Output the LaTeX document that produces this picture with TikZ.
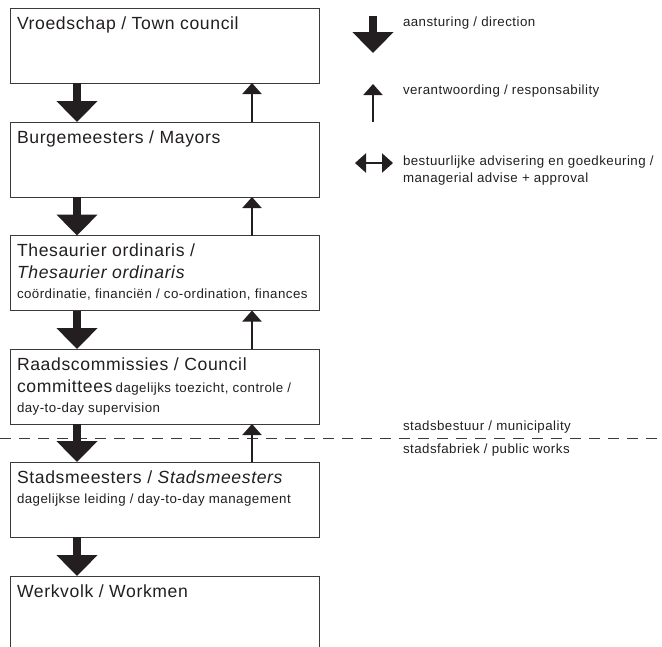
\documentclass[tikz,border=0pt]{standalone}
\usepackage{fontspec}
\setmainfont{Liberation Sans}[LetterSpace=3.5]
\usetikzlibrary{arrows.meta}
\definecolor{ink}{HTML}{231F20}
\definecolor{edge}{HTML}{3A3A3A}
\newcommand{\bigtxt}{\fontsize{17.6}{20}\selectfont}
\newcommand{\smltxt}{\fontsize{13.3}{16}\selectfont}
\begin{document}
\begin{tikzpicture}[x=1pt,y=-1pt,
  box/.style={draw=edge,line width=0.9pt,fill=white,inner sep=0pt,outer sep=0pt,
    minimum width=309pt,minimum height=75pt,anchor=north west},
  txt/.style={inner sep=0pt,outer sep=0pt,anchor=base west,text=ink},
  big/.style={txt,font=\bigtxt},
  sml/.style={txt,font=\smltxt},
  dirarrow/.style={draw=ink,line width=8pt,-{Triangle[width=40pt,length=21pt,fill=ink]}},
  resparrow/.style={draw=ink,line width=2pt,-{Triangle[width=19pt,length=11pt,fill=ink]}},
  advarrow/.style={draw=ink,line width=2.5pt,{Triangle[width=19pt,length=11pt,fill=ink]}-{Triangle[width=19pt,length=11pt,fill=ink]}},
  divider/.style={draw=edge,line width=0.9pt,dash pattern=on 11pt off 8pt}
]
\useasboundingbox (0,0) rectangle (662,646);

% dashed divider
\coordinate (dl) at (0,438);
\coordinate (dr) at (662,438);
\draw[divider] (dl) -- (dr);

% boxes
\node[box] (b1) at (10,8) {};
\node[box] (b2) at (10,122) {};
\node[box] (b3) at (10,235.5) {};
\node[box] (b4) at (10,349) {};
\node[box] (b5) at (10,462) {};
\node[box,minimum height=100pt] (b6) at (10,576) {};

% box texts
\node[big] (t1) at (17,29) {Vroedschap / Town council};
\node[big] (t2) at (17,143) {Burgemeesters / Mayors};
\node[big] (t3a) at (17,256) {Thesaurier ordinaris /};
\node[big] (t3b) at (17,278) {\itshape Thesaurier ordinaris};
\node[sml] (t3c) at (17,298) {coördinatie, financiën / co-ordination, finances};
\node[big] (t4a) at (17,370) {Raadscommissies / Council};
\node[txt] (t4b) at (17,392) {{\bigtxt committees} {\smltxt dagelijks toezicht, controle /}};
\node[sml] (t4c) at (17,412) {day-to-day supervision};
\node[big] (t5a) at (17,483) {Stadsmeesters / \textit{Stadsmeesters}};
\node[sml] (t5b) at (17,503) {dagelijkse leiding / day-to-day management};
\node[big] (t6) at (17,597) {Werkvolk / Workmen};

% arrow columns
\coordinate (ax) at (77,0);
\coordinate (rx) at (252,0);
\draw[dirarrow] (b1.south -| ax) -- (b2.north -| ax);
\draw[dirarrow] (b2.south -| ax) -- (b3.north -| ax);
\draw[dirarrow] (b3.south -| ax) -- (b4.north -| ax);
\draw[dirarrow] (b4.south -| ax) -- (b5.north -| ax);
\draw[dirarrow] (b5.south -| ax) -- (b6.north -| ax);
\draw[resparrow] (b2.north -| rx) -- (b1.south -| rx);
\draw[resparrow] (b3.north -| rx) -- (b2.south -| rx);
\draw[resparrow] (b4.north -| rx) -- (b3.south -| rx);
\draw[resparrow] (b5.north -| rx) -- (b4.south -| rx);

% divider labels
\node[sml] (lm) at (403,430) {stadsbestuur / municipality};
\node[sml] (lp) at (403,453) {stadsfabriek / public works};

% legend
\coordinate (la1) at (373,16);
\coordinate (la2) at (373,53);
\draw[dirarrow] (la1) -- (la2);
\node[sml] (lt1) at (403,26) {aansturing / direction};
\coordinate (lb1) at (373,122);
\coordinate (lb2) at (373,84);
\draw[resparrow] (lb1) -- (lb2);
\node[sml] (lt2) at (403,94) {verantwoording / responsability};
\coordinate (lc1) at (355,163);
\coordinate (lc2) at (393,163);
\draw[advarrow] (lc1) -- (lc2);
\node[sml] (lt3a) at (403,165) {bestuurlijke advisering en goedkeuring /};
\node[sml] (lt3b) at (403,182) {managerial advise + approval};
\end{tikzpicture}
\end{document}
